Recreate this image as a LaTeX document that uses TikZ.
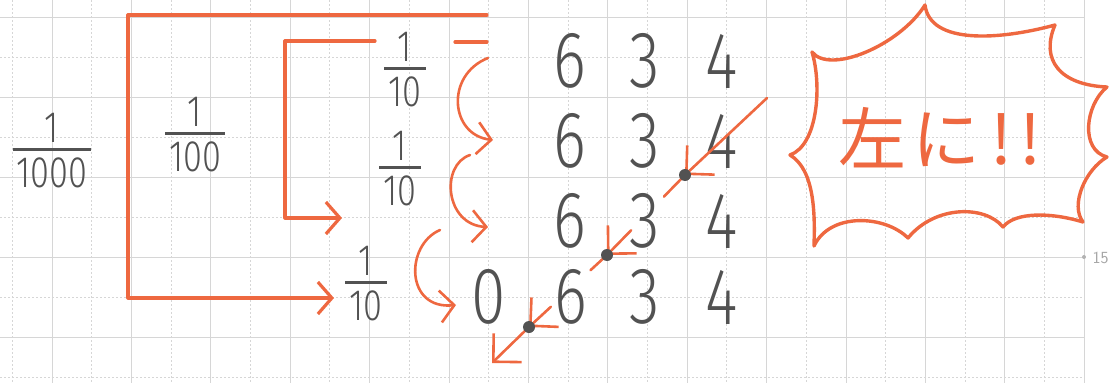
\documentclass[tikz,border=0pt]{standalone}
\usepackage{fontspec}
\usetikzlibrary{arrows.meta,calc}
\newfontfamily\handfont{Fira Sans Light}
\newfontfamily\jpfont{Noto Sans CJK JP}
\definecolor{pen}{RGB}{238,104,64}
\definecolor{lead}{RGB}{82,82,82}
\definecolor{gridln}{RGB}{214,214,214}
\newcommand{\nar}[1]{\scalebox{0.78}[1]{#1}}
\newcommand{\frc}[2]{{\renewcommand{\arraystretch}{0.75}\setlength{\arrayrulewidth}{2.4pt}%
  \begin{tabular}{@{\hspace{4pt}}c@{\hspace{4pt}}}\nar{#1}\\[-5pt]\hline\rule{0pt}{37pt}\nar{#2}\end{tabular}}}

\begin{document}
\begin{tikzpicture}[x=1pt, y=-1pt,
    digit/.style={font=\handfont\fontsize{80}{80}\selectfont, text=lead, inner sep=0pt},
    fracbox/.style={font=\handfont\fontsize{44}{48}\selectfont, text=lead, inner sep=0pt},
    arr/.style={draw=pen, line width=3.2pt, line cap=round, line join=round,
        -{Straight Barb[length=14pt, width=32pt]}},
    curl/.style={arr, line width=2.6pt},
    slash/.style={arr, line width=2.6pt, -{Straight Barb[length=20pt, width=40pt]}},
    pencil/.style={draw=pen, line width=2.6pt, line cap=round},
    dot/.style={circle, fill=lead, inner sep=0pt, minimum size=12pt},
    burst/.style={draw=pen, line width=3.4pt, line join=round},
    gridsolid/.style={draw=gridln, line width=1pt},
    griddot/.style={draw=gridln, line width=1pt, dash pattern=on 2pt off 2pt}
]
\useasboundingbox (0,0) rectangle (1112,383);
% grid paper
\foreach \i in {0,...,13} {
  \draw[gridsolid] ({52+79.4*\i},0) -- ({52+79.4*\i},383);
  \draw[griddot] ({12.3+79.4*\i},0) -- ({12.3+79.4*\i},383);
}
\foreach \j in {17,97,177,257,337} {
  \draw[gridsolid] (0,\j) -- (1084,\j);
  \draw[griddot] (0,\j+40) -- (1084,\j+40);
}
\node[circle, fill=gray!60, inner sep=0pt, minimum size=4pt] (tick) at (1084,257) {};
\node[font=\sffamily\fontsize{17}{17}\selectfont, text=gray!70, anchor=west] (pagenum) at (1089,258) {15};

% fractions
\node[fracbox] (fthou) at (52,156) {\frc{1}{1000}};
\node[fracbox] (fhund) at (195,140) {\frc{1}{100}};
\node[fracbox] (ftenA) at (405,75) {\frc{1}{10}};
\node[fracbox] (ftenB) at (400,174) {\frc{1}{10}};
\node[fracbox] (ftenC) at (366,289) {\frc{1}{10}};

% digits
\node[digit] (a6) at (570,61) {\nar{6}};
\node[digit] (a3) at (645,61) {\nar{3}};
\node[digit] (a4) at (722,61) {\nar{4}};
\node[digit] (b6) at (570,141) {\nar{6}};
\node[digit] (b3) at (645,141) {\nar{3}};
\node[digit] (b4) at (722,141) {\nar{4}};
\node[digit] (c6) at (570,221) {\nar{6}};
\node[digit] (c3) at (645,221) {\nar{3}};
\node[digit] (c4) at (722,221) {\nar{4}};
\node[digit] (d0) at (489,297) {\nar{0}};
\node[digit] (d6) at (571,297) {\nar{6}};
\node[digit] (d3) at (645,297) {\nar{3}};
\node[digit] (d4) at (722,297) {\nar{4}};

% brackets
\coordinate (outer) at (487,15);
\coordinate (inner) at (375,41);
\coordinate (innerdash) at (455,42);
\draw[arr] (outer) -- (128,15) |- ([xshift=-32pt,yshift=-9pt]ftenC.center);
\draw[arr] (inner) -- (285,41) |- ([xshift=-58pt,yshift=-44pt]ftenB.center);
\draw[pencil, line width=3.2pt] (innerdash) -- (487,42);

% curly arrows
\draw[curl] ([xshift=-82pt,yshift=3pt]a6.center) .. controls (445,75) and (450,135) .. ([xshift=-77pt,yshift=1pt]b6.center);
\draw[curl] ([xshift=-100pt,yshift=-14pt]b6.center) .. controls (440,165) and (445,225) .. ([xshift=-82pt,yshift=-6pt]c6.center);
\draw[curl] ([xshift=-130pt,yshift=-9pt]c6.center) .. controls (405,245) and (405,310) .. ([xshift=-33pt,yshift=-8pt]d0.center);

% diagonal
\coordinate (slashS) at (767,98);
\coordinate (pA) at (685,175);
\coordinate (pB) at (607,255);
\coordinate (pC) at (529,327);
\coordinate (slashE) at (492,363);
\draw[slash] (slashS) -- (pA);
\draw[pencil] (pA) -- ($(pA)!0.27!(pB)$);
\draw[slash] ($(pA)!0.69!(pB)$) -- (pB);
\draw[pencil] (pB) -- ($(pB)!0.21!(pC)$);
\draw[slash] ($(pB)!0.72!(pC)$) -- (pC);
\draw[slash] (pC) -- (slashE);
\node[dot] (dotA) at (pA) {};
\node[dot] (dotB) at (pB) {};
\node[dot] (dotC) at (pC) {};

% burst
\draw[burst] (812,52) .. controls (830,75) and (900,45) .. (925,5)
  .. controls (930,45) and (1000,40) .. (1055,25)
  .. controls (1040,60) and (1060,85) .. (1107,87)
  .. controls (1085,105) and (1080,150) .. (1107,157)
  .. controls (1085,170) and (1070,205) .. (1083,222)
  .. controls (1050,212) and (1015,212) .. (1003,227)
  .. controls (985,205) and (935,205) .. (908,238)
  .. controls (885,215) and (830,212) .. (814,246)
  .. controls (815,215) and (815,170) .. (790,155)
  .. controls (818,145) and (822,85) .. cycle;
\node[font=\jpfont\fontsize{68}{68}\selectfont, text=pen] (hidari) at (940,138) {左\hspace{6pt}に\hspace{10pt}!\hspace{8pt}!};
\end{tikzpicture}
\end{document}
